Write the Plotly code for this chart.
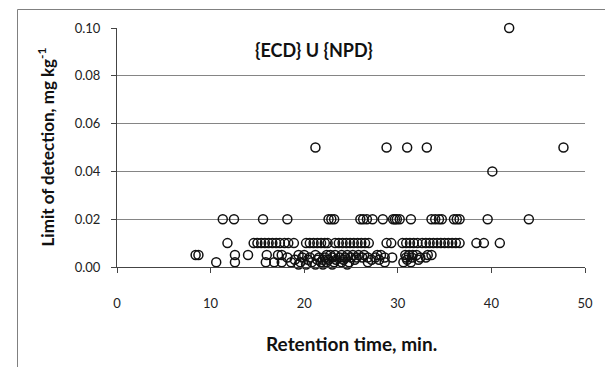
import plotly.graph_objects as go

# Retention times (min) grouped by limit-of-detection level (mg/kg)
x_at_010 = [41.9]
x_at_005 = [21.2, 28.8, 31.0, 33.1, 47.7]
x_at_004 = [40.1]
x_at_002 = [11.3, 12.5, 15.6, 18.2, 22.6, 22.9, 23.2, 26.0, 26.3, 26.7, 27.3, 28.4,
            29.5, 29.7, 29.9, 30.2, 31.4, 33.6, 34.0, 34.4, 34.7, 36.0, 36.3, 36.6,
            39.6, 44.0]
x_at_001 = [11.8, 14.6, 15.0, 15.4, 15.8, 16.2, 16.6, 17.0, 17.4, 17.9, 18.3, 18.9,
            20.2, 20.6, 21.0, 21.4, 21.8, 22.2, 22.5, 23.3, 23.7, 24.1, 24.5, 24.9,
            25.3, 25.7, 26.1, 26.5, 26.9, 28.8, 29.3, 30.5, 30.9, 31.3, 31.7, 32.1,
            32.6, 33.0, 33.4, 33.8, 34.2, 34.6, 35.0, 35.4, 35.8, 36.2, 36.6, 38.4,
            39.2, 40.9]
x_at_0005 = [8.4, 8.7, 12.6, 14.0, 16.0, 17.2, 17.6, 19.4, 20.0, 21.2, 22.4, 22.8,
             23.3, 24.0, 24.6, 25.2, 25.8, 26.4, 27.8, 28.2, 30.8, 31.2, 31.6, 32.0,
             33.2, 33.6]
x_at_0004 = [18.2, 19.8, 20.6, 21.6, 22.2, 23.0, 23.8, 24.4, 25.0, 25.6, 26.2, 26.8,
             27.6, 28.6, 29.4, 30.9, 31.5, 32.4, 33.0]
x_at_0003 = [19.0, 20.4, 21.4, 22.0, 22.6, 23.4, 24.2, 25.4, 27.2, 28.0, 31.0, 32.2]
x_at_0002 = [10.6, 12.6, 15.9, 16.8, 17.6, 18.6, 19.6, 20.8, 21.8, 22.4, 23.2, 24.0,
             24.8, 26.8, 28.6, 30.6, 31.4]
x_at_0001 = [19.4, 20.2, 21.2, 22.0, 23.0, 24.6]

levels = [
    (0.10, x_at_010), (0.05, x_at_005), (0.04, x_at_004), (0.02, x_at_002),
    (0.01, x_at_001), (0.005, x_at_0005), (0.004, x_at_0004), (0.003, x_at_0003),
    (0.002, x_at_0002), (0.001, x_at_0001),
]

xs, ys = [], []
for lvl, xl in levels:
    xs += xl
    ys += [lvl] * len(xl)

x_ticks = [0, 10, 20, 30, 40, 50]
y_ticks = [0.00, 0.02, 0.04, 0.06, 0.08, 0.10]
y_tick_labels = ["0.00", "0.02", "0.04", "0.06", "0.08", "0.10"]

# page has an 8px body margin; figure is sized so the plot lands where the reference has it
W, H = 605, 359
PL, PR, PT, PB = 109, 28, 20, 100          # plot-area insets inside the figure
PW, PH = W - PL - PR, H - PT - PB          # 468 x 239

font_ticks = dict(family="Lato, Open Sans, sans-serif", size=13, color="#222222")
font_bold = "Lato, Open Sans, sans-serif"

fig = go.Figure()
fig.add_trace(go.Scatter(
    x=xs, y=ys, mode="markers", cliponaxis=False,
    marker=dict(symbol="circle-open", size=9, color="#111111", line=dict(width=1.5)),
    showlegend=False,
))

# outer chart frame, drawn in full-figure paper coordinates (margins are zero)
fx0 = 9.5 / W
fx1 = (W - 3.5) / W
fy1 = 1 - 1.5 / H
frame_line = dict(color="#808080", width=1)
frame = [
    dict(type="line", xref="paper", yref="paper", x0=fx0, x1=fx0, y0=0, y1=fy1, line=frame_line),
    dict(type="line", xref="paper", yref="paper", x0=fx0, x1=fx1, y0=fy1, y1=fy1, line=frame_line),
    dict(type="line", xref="paper", yref="paper", x0=fx1, x1=fx1, y0=0, y1=fy1, line=frame_line),
]

fig.update_layout(
    width=W, height=H,
    margin=dict(l=0, r=0, t=0, b=0, autoexpand=False),
    paper_bgcolor="white", plot_bgcolor="white",
    font=font_ticks,
    xaxis=dict(domain=[PL / W, (W - PR) / W], range=[0, 50], tickvals=x_ticks,
               showgrid=False, zeroline=False,
               showline=True, linecolor="#444444", linewidth=1,
               ticks="outside", ticklen=5, tickcolor="#444444",
               tickfont=font_ticks, ticklabelstandoff=19),
    yaxis=dict(domain=[PB / H, (H - PT) / H], range=[0, 0.10], tickvals=y_ticks,
               ticktext=y_tick_labels,
               showgrid=True, gridcolor="#858585", gridwidth=1, zeroline=False,
               showline=True, linecolor="#444444", linewidth=1,
               ticks="outside", ticklen=5, tickcolor="#444444",
               tickfont=font_ticks, ticklabelstandoff=8),
    shapes=frame,
    annotations=[
        dict(text="<b>{ECD} U {NPD}</b>", x=21.0, y=0.091, xref="x", yref="y",
             showarrow=False, font=dict(family=font_bold, size=18, color="#111111")),
        dict(text="<b>Retention time, min.</b>", x=(PL + PW / 2) / W, y=(PB - 76) / H,
             xref="paper", yref="paper", showarrow=False, yanchor="middle",
             font=dict(family=font_bold, size=19, color="#111111")),
        dict(text="<b>Limit of detection, mg kg<sup>-1</sup></b>", x=(PL - 71) / W,
             y=(PB + PH / 2) / H, xref="paper", yref="paper", showarrow=False,
             textangle=-90, xanchor="center", yanchor="middle",
             font=dict(family=font_bold, size=17, color="#111111")),
    ],
)

fig.write_html("out.html")
